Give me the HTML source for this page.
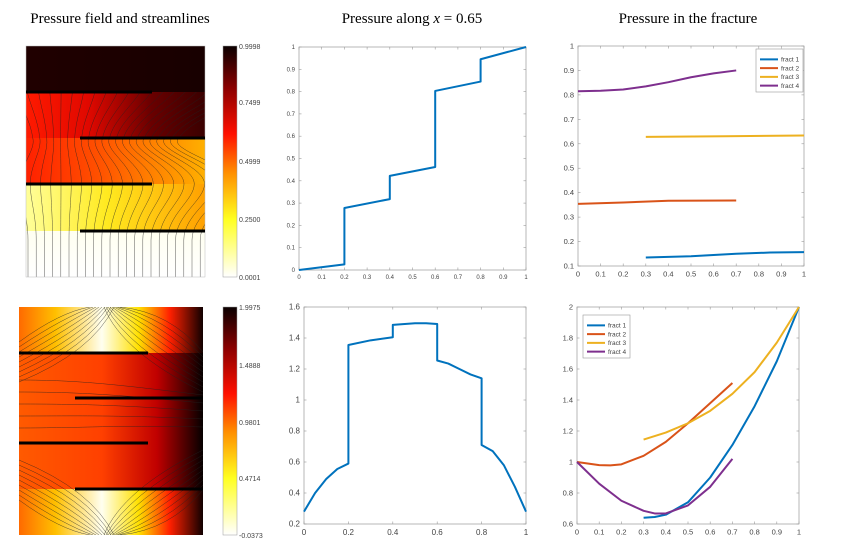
<!DOCTYPE html>
<html><head><meta charset="utf-8"><style>
body{margin:0;background:#fff;width:841px;height:553px;overflow:hidden}
svg{display:block}
.t{font-family:"Liberation Serif",serif;font-size:15px;fill:#000}
.tk{font-family:"Liberation Sans",sans-serif;fill:#444}
</style></head><body>
<svg id="s" width="841" height="553" viewBox="0 0 841 553">
<defs>
<clipPath id="c1"><rect x="26" y="92" width="179" height="185"/></clipPath>
<clipPath id="c2"><rect x="19" y="307" width="184" height="228"/></clipPath>
<linearGradient id="hot" x1="0" y1="1" x2="0" y2="0">
<stop offset="0" stop-color="#ffffff"/><stop offset="0.25" stop-color="#ffff20"/><stop offset="0.45" stop-color="#ff9000"/><stop offset="0.62" stop-color="#ff1000"/><stop offset="0.82" stop-color="#8a0000"/><stop offset="1" stop-color="#0a0000"/>
</linearGradient>
<linearGradient id="b1" x1="0" x2="1"><stop offset="0" stop-color="#200000"/><stop offset="1" stop-color="#180000"/></linearGradient>
<linearGradient id="b2" x1="0" x2="1"><stop offset="0" stop-color="#ff1a00"/><stop offset="0.35" stop-color="#e00800"/><stop offset="0.7" stop-color="#6a0000"/><stop offset="1" stop-color="#3a0000"/></linearGradient>
<linearGradient id="b3" x1="0" x2="1"><stop offset="0" stop-color="#ff2000"/><stop offset="0.4" stop-color="#ff5000"/><stop offset="1" stop-color="#ffb000"/></linearGradient>
<linearGradient id="b4" x1="0" x2="1"><stop offset="0" stop-color="#ffff9a"/><stop offset="0.45" stop-color="#ffea20"/><stop offset="1" stop-color="#ffa000"/></linearGradient>
<linearGradient id="b5" x1="0" x2="0" y1="0" y2="1"><stop offset="0" stop-color="#fffff0"/><stop offset="1" stop-color="#ffffff"/></linearGradient>
<linearGradient id="m1" x1="0" x2="1"><stop offset="0" stop-color="#ff5a00"/><stop offset="0.45" stop-color="#ff4000"/><stop offset="0.75" stop-color="#c00000"/><stop offset="1" stop-color="#050000"/></linearGradient>
<linearGradient id="m2" x1="0" x2="1"><stop offset="0" stop-color="#ff6a00"/><stop offset="0.2" stop-color="#ffc000"/><stop offset="0.45" stop-color="#fffff0"/><stop offset="0.65" stop-color="#ffe000"/><stop offset="0.82" stop-color="#ff2000"/><stop offset="1" stop-color="#100000"/></linearGradient>
</defs>
<text class="t" x="120" y="23" text-anchor="middle">Pressure field and streamlines</text>
<text class="t" x="412" y="23" text-anchor="middle">Pressure along <tspan font-style="italic">x</tspan> = 0.65</text>
<text class="t" x="688" y="23" text-anchor="middle">Pressure in the fracture</text>

<g>
<rect x="26" y="46" width="179" height="46" fill="url(#b1)"/>
<rect x="26" y="92" width="179" height="46" fill="url(#b2)"/>
<rect x="26" y="138" width="179" height="46" fill="url(#b3)"/>
<rect x="26" y="184" width="179" height="47" fill="url(#b4)"/>
<rect x="26" y="231" width="179" height="46" fill="url(#b5)"/>
<g id="st1" stroke="#222" stroke-width="0.5" fill="none" opacity="0.75" clip-path="url(#c1)"></g>
<rect x="26" y="46" width="179" height="231" fill="none" stroke="#bbb" stroke-width="0.5"/>
<g stroke="#000" stroke-width="3">
<line x1="26" y1="92" x2="152" y2="92"/><line x1="80" y1="138" x2="205" y2="138"/>
<line x1="26" y1="184" x2="152" y2="184"/><line x1="80" y1="231" x2="205" y2="231"/>
</g>
</g>
<g>
<rect x="223" y="46" width="14" height="231" fill="url(#hot)" stroke="#999" stroke-width="0.5"/>
<g class="tk" font-size="7"><text x="239" y="49">0.9998</text><text x="239" y="105">0.7499</text><text x="239" y="164">0.4999</text><text x="239" y="222">0.2500</text><text x="239" y="280">0.0001</text></g>
</g>

<g>
<rect x="19" y="307" width="184" height="46" fill="url(#m2)"/>
<rect x="19" y="353" width="184" height="136" fill="url(#m1)"/>
<rect x="19" y="489" width="184" height="46" fill="url(#m2)"/>
<g id="st2" stroke="#222" stroke-width="0.5" fill="none" opacity="0.75" clip-path="url(#c2)"></g>
<g stroke="#000" stroke-width="3">
<line x1="19" y1="353" x2="148" y2="353"/><line x1="75" y1="398" x2="203" y2="398"/>
<line x1="19" y1="443" x2="148" y2="443"/><line x1="75" y1="489" x2="203" y2="489"/>
</g>
</g>
<g>
<rect x="223" y="307" width="14" height="228" fill="url(#hot)" stroke="#999" stroke-width="0.5"/>
<g class="tk" font-size="7"><text x="239" y="310">1.9975</text><text x="239" y="368">1.4888</text><text x="239" y="425">0.9801</text><text x="239" y="481">0.4714</text><text x="239" y="538">-0.0373</text></g>
</g>
<g id="charts"></g>
</svg>
<script>
// chart data
const p1x=[0,0.2,0.2,0.4,0.4,0.6,0.6,0.8,0.8,1];
const p1y=[0,0.025,0.278,0.318,0.422,0.462,0.803,0.845,0.945,1];
const p2x=[0,0.05,0.1,0.15,0.2,0.2,0.3,0.4,0.4,0.5,0.55,0.6,0.6,0.65,0.7,0.75,0.8,0.8,0.85,0.9,0.95,1];
const p2y=[0.28,0.4,0.49,0.555,0.59,1.355,1.385,1.405,1.485,1.495,1.495,1.49,1.255,1.235,1.2,1.165,1.14,0.71,0.67,0.58,0.44,0.28];
const tf1x=[0.3,0.5,0.7,0.85,1], tf1y=[0.135,0.14,0.15,0.155,0.157];
const tf2x=[0,0.2,0.4,0.7], tf2y=[0.354,0.36,0.367,0.368];
const tf3x=[0.3,0.65,1], tf3y=[0.628,0.631,0.634];
const tf4x=[0,0.1,0.2,0.3,0.4,0.5,0.6,0.7], tf4y=[0.815,0.817,0.822,0.835,0.852,0.872,0.888,0.9];
const bf1x=[0.3,0.35,0.4,0.5,0.6,0.7,0.8,0.9,1], bf1y=[0.64,0.645,0.66,0.74,0.9,1.11,1.36,1.65,2.0];
const bf2x=[0,0.1,0.15,0.2,0.3,0.4,0.5,0.6,0.7], bf2y=[1.0,0.98,0.978,0.985,1.04,1.13,1.25,1.38,1.51];
const bf3x=[0.3,0.4,0.5,0.6,0.7,0.8,0.9,1], bf3y=[1.145,1.19,1.25,1.33,1.44,1.58,1.77,2.0];
const bf4x=[0,0.1,0.2,0.3,0.35,0.4,0.5,0.6,0.7], bf4y=[1.0,0.86,0.75,0.685,0.668,0.668,0.72,0.84,1.02];
const legendLabels=["fract 1","fract 2","fract 3","fract 4"];
const colors=["#0072BD","#D95319","#EDB120","#7E2F8E"];
const xt10=[0,0.1,0.2,0.3,0.4,0.5,0.6,0.7,0.8,0.9,1];
const xt5=[0,0.2,0.4,0.6,0.8,1];
const yt1=[0,0.1,0.2,0.3,0.4,0.5,0.6,0.7,0.8,0.9,1];
const yt2=[0.2,0.4,0.6,0.8,1,1.2,1.4,1.6];
const yt3=[0.1,0.2,0.3,0.4,0.5,0.6,0.7,0.8,0.9,1];
const yt4=[0.6,0.8,1,1.2,1.4,1.6,1.8,2];

const NS="http://www.w3.org/2000/svg";
const root=document.getElementById('charts');
function mk(tag,attrs,parent){const e=document.createElementNS(NS,tag);for(const k in attrs)e.setAttribute(k,attrs[k]);parent.appendChild(e);return e;}
function chart(name,L,T,R,B,xmin,xmax,ymin,ymax,xt,yt,fs,series,legend){
  const g=mk('g',{},root);
  
  
  const sx=v=>L+(v-xmin)/(xmax-xmin)*(R-L), sy=v=>B-(v-ymin)/(ymax-ymin)*(B-T);
  mk('rect',{x:L,y:T,width:R-L,height:B-T,fill:'#fff',stroke:'#999','stroke-width':0.7},g);
  xt.forEach(v=>{const x=sx(v);mk('line',{x1:x,y1:B,x2:x,y2:B-2.5,stroke:'#999','stroke-width':0.6},g);mk('line',{x1:x,y1:T,x2:x,y2:T+2.5,stroke:'#999','stroke-width':0.6},g);
    const t=mk('text',{x:x,y:B+fs+3,'text-anchor':'middle','font-size':fs,class:'tk'},g);t.textContent=String(v);
    
    });
  yt.forEach(v=>{const y=sy(v);mk('line',{x1:L,y1:y,x2:L+2.5,y2:y,stroke:'#999','stroke-width':0.6},g);mk('line',{x1:R,y1:y,x2:R-2.5,y2:y,stroke:'#999','stroke-width':0.6},g);
    const t=mk('text',{x:L-4,y:y+fs/3,'text-anchor':'end','font-size':fs,class:'tk'},g);t.textContent=String(v);
    
    });
  series.forEach((s,i)=>{const p=mk('polyline',{points:s.x.map((v,j)=>sx(v)+','+sy(s.y[j])).join(' '),fill:'none',stroke:s.c,'stroke-width':2,'stroke-linejoin':'round'},g);
    
    });
  if(legend){const [lx,ly,lw,lh]=legend;const lg=mk('g',{},g);
    
    
    mk('rect',{x:lx,y:ly,width:lw,height:lh,fill:'#fff',stroke:'#999','stroke-width':0.6},lg);
    legendLabels.forEach((lab,i)=>{const y=ly+6+i*(lh-8)/4+ (lh-8)/8;
      mk('line',{x1:lx+4,y1:y,x2:lx+22,y2:y,stroke:colors[i],'stroke-width':2},lg);
      const t=mk('text',{x:lx+25,y:y+2.3,'font-size':6.5,class:'tk',fill:'#222'},lg);t.textContent=lab;
      
      });}
}
chart('chart-pressure-along-top',299,47,526,270,0,1,0,1,xt10,yt1,6,[{x:p1x,y:p1y,c:colors[0]}]);
chart('chart-pressure-along-bottom',304,307,526,524,0,1,0.2,1.6,xt5,yt2,8,[{x:p2x,y:p2y,c:colors[0]}]);
chart('chart-fracture-top',578,46,804,266,0,1,0.1,1,xt10,yt3,7.5,[{x:tf1x,y:tf1y,c:colors[0]},{x:tf2x,y:tf2y,c:colors[1]},{x:tf3x,y:tf3y,c:colors[2]},{x:tf4x,y:tf4y,c:colors[3]}],[756,49,47,43]);
chart('chart-fracture-bottom',577,307,799,524,0,1,0.6,2,xt10,yt4,7.5,[{x:bf1x,y:bf1y,c:colors[0]},{x:bf2x,y:bf2y,c:colors[1]},{x:bf3x,y:bf3y,c:colors[2]},{x:bf4x,y:bf4y,c:colors[3]}],[583,315,47,43]);

// decorative streamlines (clipped)
const s1=document.getElementById('st1');
for(let i=0;i<22;i++){const x=28+i*8.2;const d=(x-60)*0.25;
  mk('path',{d:`M${x} 277 L${x} 240 C${x} 215 ${x+d} 200 ${x+d} 184 C${x+d} 165 ${x-d} 150 ${x-d*0.6} 138 C${x-d*0.3} 120 ${x+d} 105 ${x+d*1.5} 92`},s1);}
const s2=document.getElementById('st2');
for(let i=0;i<9;i++){const y=312+i*5;mk('path',{d:`M19 ${y+30} Q${60+i*4} ${y} ${90+i*3} 307`},s2);mk('path',{d:`M203 ${y+40} Q${170-i*6} ${y} ${120-i*2} 307`},s2);
  mk('path',{d:`M19 ${530-i*5-30} Q${60+i*4} ${530-i*5} ${90+i*3} 535`},s2);mk('path',{d:`M203 ${530-i*5-40} Q${170-i*6} ${530-i*5} ${120-i*2} 535`},s2);}
for(let i=0;i<5;i++){mk('path',{d:`M19 ${380+i*12} C80 ${380+i*12} 120 ${385+i*10} 203 ${395+i*8}`},s2);}
</script>
</body></html>
